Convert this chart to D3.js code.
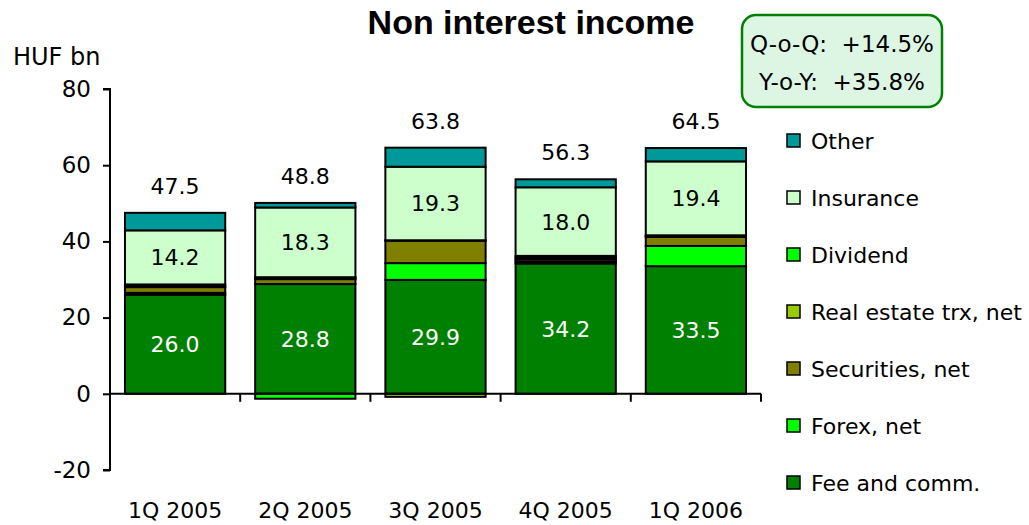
<!DOCTYPE html>
<html>
<head>
<meta charset="utf-8">
<script src="https://cdn.jsdelivr.net/npm/d3@7"></script>
<style>
  html, body { margin: 0; padding: 0; background: #fff; }
  svg { display: block; }
</style>
</head>
<body>
<svg id="chart" width="1029" height="525"></svg>
<script>
// ---- data ----
const categories = ["1Q 2005", "2Q 2005", "3Q 2005", "4Q 2005", "1Q 2006"];
const totals = [47.5, 48.8, 63.8, 56.3, 64.5];
const feeAndComm = [26.0, 28.8, 29.9, 34.2, 33.5];
const forexNet = [0.5, -1.3, 4.4, 0.5, 5.3];
const securitiesNet = [1.5, 1.3, 5.9, 0.6, 2.4];
const realEstateNet = [0.2, 0.2, -0.8, 0.4, 0.1];
const dividend = [0.5, 0.3, 0.1, 0.5, 0.3];
const insurance = [14.2, 18.3, 19.3, 18.0, 19.4];
const other = [4.6, 1.2, 5.0, 2.1, 3.5];
const seriesNames = ["Fee and comm.", "Forex, net", "Securities, net", "Real estate trx, net", "Dividend", "Insurance", "Other"];
const yTicks = [-20, 0, 20, 40, 60, 80];
const title = "Non interest income";
const unitLabel = "HUF bn";
const growthLines = ["Q-o-Q:  +14.5%", "Y-o-Y:  +35.8%"];

// ---- styles ----
const colors = ["#008000", "#00ff00", "#808000", "#99cc00", "#00ff00", "#ccffcc", "#009999"];
const FONT = "DejaVu Sans, Verdana, sans-serif";

const seriesValues = [feeAndComm, forexNet, securitiesNet, realEstateNet, dividend, insurance, other];
const rows = categories.map((c, i) => {
  const r = { cat: c };
  seriesNames.forEach((s, k) => r[s] = seriesValues[k][i]);
  return r;
});

const svg = d3.select("#chart");
const pLeft = 110, pRight = 761, pTop = 89, pBottom = 470;

const x = d3.scaleBand().domain(categories).range([pLeft, pRight]).paddingInner(0.23).paddingOuter(0.115);
const y = d3.scaleLinear().domain([-20, 80]).range([pBottom, pTop]);

const stack = d3.stack().keys(seriesNames).offset(d3.stackOffsetDiverging);
const stacked = stack(rows);

// bars
const g = svg.append("g");
stacked.forEach((layer, k) => {
  g.selectAll(null).data(layer).enter().append("rect")
    .attr("x", d => x(d.data.cat))
    .attr("width", x.bandwidth())
    .attr("y", d => y(Math.max(d[0], d[1])))
    .attr("height", d => Math.abs(y(d[0]) - y(d[1])))
    .attr("fill", colors[k])
    .attr("stroke", "#000")
    .attr("stroke-width", 2);
});

// y axis
const yAxis = d3.axisLeft(y).tickValues(yTicks).tickSize(7).tickPadding(12).tickFormat(d => String(d));
const ya = svg.append("g").attr("transform", `translate(${pLeft},0)`).call(yAxis);
ya.select(".domain").attr("stroke", "#000").attr("stroke-width", 2).attr("d", `M-7,${y(80)}H0V${y(-20)}H-7`);
ya.selectAll(".tick line").attr("stroke", "#000").attr("stroke-width", 2);
ya.selectAll(".tick text").attr("font-family", FONT).attr("font-size", 23).attr("fill", "#000");

// x axis line at zero with boundary ticks
const xa = svg.append("g");
xa.append("line").attr("x1", pLeft).attr("x2", pRight).attr("y1", y(0)).attr("y2", y(0))
  .attr("stroke", "#000").attr("stroke-width", 2);
const bounds = categories.map(c => x(c) - (x.step() - x.bandwidth()) / 2);
bounds.push(pRight);
xa.selectAll(null).data(bounds).enter().append("line")
  .attr("x1", d => d).attr("x2", d => d).attr("y1", y(0)).attr("y2", y(0) + 8)
  .attr("stroke", "#000").attr("stroke-width", 2);

// category labels
svg.selectAll(null).data(categories).enter().append("text")
  .attr("x", d => x(d) + x.bandwidth() / 2).attr("y", 518)
  .attr("text-anchor", "middle").attr("font-family", FONT).attr("font-size", 22)
  .text(d => d);

// inside labels: fee (white) and insurance (black)
const feeLayer = stacked[0], insLayer = stacked[5];
svg.selectAll(null).data(feeLayer).enter().append("text")
  .attr("x", d => x(d.data.cat) + x.bandwidth() / 2)
  .attr("y", d => (y(d[0]) + y(d[1])) / 2)
  .attr("dy", "0.36em").attr("text-anchor", "middle")
  .attr("font-family", FONT).attr("font-size", 22).attr("fill", "#fff")
  .text(d => d3.format(".1f")(d[1] - d[0]));
svg.selectAll(null).data(insLayer).enter().append("text")
  .attr("x", d => x(d.data.cat) + x.bandwidth() / 2)
  .attr("y", d => (y(d[0]) + y(d[1])) / 2)
  .attr("dy", "0.36em").attr("text-anchor", "middle")
  .attr("font-family", FONT).attr("font-size", 22).attr("fill", "#000")
  .text(d => d3.format(".1f")(d[1] - d[0]));

// totals above bars
const topOf = categories.map((c, i) => d3.max(stacked, l => l[i][1]));
svg.selectAll(null).data(categories).enter().append("text")
  .attr("x", d => x(d) + x.bandwidth() / 2)
  .attr("y", (d, i) => y(topOf[i]) - 19)
  .attr("text-anchor", "middle").attr("font-family", FONT).attr("font-size", 22)
  .text((d, i) => d3.format(".1f")(totals[i]));

// title
svg.append("text").attr("x", 531).attr("y", 34).attr("text-anchor", "middle")
  .attr("font-family", "Liberation Sans, Arial, sans-serif").attr("font-weight", "bold").attr("font-size", 34)
  .text(title);

// unit label
svg.append("text").attr("x", 13).attr("y", 65).attr("font-family", FONT).attr("font-size", 24).text(unitLabel);

// growth box
svg.append("rect").attr("x", 742).attr("y", 15).attr("width", 200).attr("height", 92)
  .attr("rx", 14).attr("ry", 14).attr("fill", "#ddf6e4").attr("stroke", "#008000").attr("stroke-width", 2.5);
svg.selectAll(null).data(growthLines).enter().append("text")
  .attr("x", 842).attr("y", (d, i) => 52 + i * 38)
  .attr("text-anchor", "middle").attr("font-family", FONT).attr("font-size", 23)
  .attr("xml:space", "preserve").style("white-space", "pre")
  .text(d => d);

// legend (top-to-bottom: reverse of stack order)
const legendItems = seriesNames.map((s, k) => ({ name: s, color: colors[k] })).reverse();
const lg = svg.append("g");
legendItems.forEach((it, i) => {
  const cy = 141 + i * 57;
  lg.append("rect").attr("x", 787).attr("y", cy - 7).attr("width", 13).attr("height", 13)
    .attr("fill", it.color).attr("stroke", "#000").attr("stroke-width", 1.5);
  lg.append("text").attr("x", 811).attr("y", cy).attr("dy", "0.36em")
    .attr("font-family", FONT).attr("font-size", 22).text(it.name);
});
</script>
</body>
</html>
